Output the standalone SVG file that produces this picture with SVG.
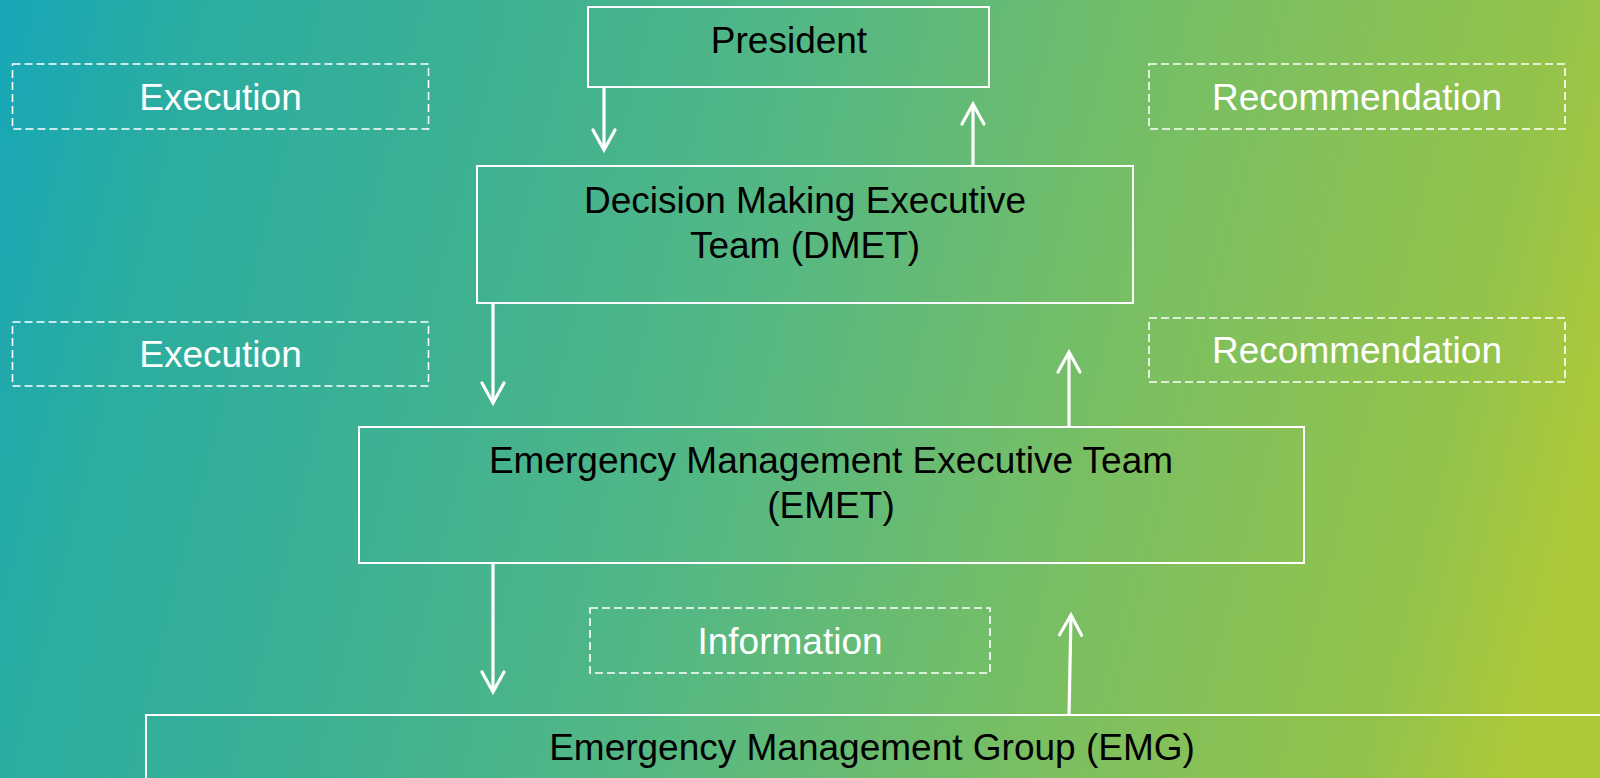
<svg xmlns="http://www.w3.org/2000/svg" width="1600" height="778" viewBox="0 0 1600 778">
<defs>
<linearGradient id="bg" gradientUnits="userSpaceOnUse" x1="0" y1="0" x2="1600" y2="400">
<stop offset="0" stop-color="#17a7b8"/>
<stop offset="0.12" stop-color="#2badA0"/>
<stop offset="0.3" stop-color="#3db193"/>
<stop offset="0.5" stop-color="#56b882"/>
<stop offset="0.72" stop-color="#7abf62"/>
<stop offset="0.92" stop-color="#94c34b"/>
<stop offset="1" stop-color="#acc93a"/>
</linearGradient>
<marker id="ah" markerUnits="userSpaceOnUse" markerWidth="30" markerHeight="30" refX="0" refY="0" orient="auto" overflow="visible">
<path d="M-20,-11 L0,0 L-20,11" fill="none" stroke="#fff" stroke-width="3.2" stroke-linecap="round" stroke-linejoin="miter"/>
</marker>
</defs>
<style>
.node{fill:none;stroke:#fff;stroke-width:2}
.lbl{fill:none;stroke:#fff;stroke-width:1.6;stroke-dasharray:8 4}
.nt{font-family:"Liberation Sans",Arial,sans-serif;font-size:37px;fill:#000;text-anchor:middle}
.lt{font-family:"Liberation Sans",Arial,sans-serif;font-size:37px;fill:#fff;text-anchor:middle}
.conn line{stroke:#fff;stroke-width:3.2;marker-end:url(#ah)}
</style>
<rect x="0" y="0" width="1600" height="778" fill="url(#bg)"/>
<g id="president">
<rect class="node" x="588" y="7" width="401" height="80"/>
<text class="nt" x="789" y="53">President</text>
</g>
<g id="dmet">
<rect class="node" x="477" y="166" width="656" height="137"/>
<text class="nt" x="805" y="213">Decision Making Executive</text>
<text class="nt" x="805" y="258">Team (DMET)</text>
</g>
<g id="emet">
<rect class="node" x="359" y="427" width="945" height="136"/>
<text class="nt" x="831" y="473">Emergency Management Executive Team</text>
<text class="nt" x="831" y="518">(EMET)</text>
</g>
<g id="emg">
<rect class="node" x="146" y="715" width="1500" height="120"/>
<text class="nt" x="872" y="760">Emergency Management Group (EMG)</text>
</g>
<g id="label-execution-1">
<rect class="lbl" x="12.5" y="64" width="416" height="65"/>
<text class="lt" x="220.5" y="110">Execution</text>
</g>
<g id="label-recommendation-1">
<rect class="lbl" x="1149" y="64" width="416" height="65"/>
<text class="lt" x="1357" y="110">Recommendation</text>
</g>
<g id="label-execution-2">
<rect class="lbl" x="12.5" y="322" width="416" height="64"/>
<text class="lt" x="220.5" y="367">Execution</text>
</g>
<g id="label-recommendation-2">
<rect class="lbl" x="1149" y="318" width="416" height="64"/>
<text class="lt" x="1357" y="363">Recommendation</text>
</g>
<g id="label-information">
<rect class="lbl" x="590" y="608" width="400" height="65"/>
<text class="lt" x="790" y="654">Information</text>
</g>
<g id="connectors" class="conn">
<line x1="604" y1="87" x2="604" y2="150"/>
<line x1="973" y1="166" x2="973" y2="104"/>
<line x1="493" y1="303" x2="493" y2="403"/>
<line x1="1069" y1="427" x2="1069" y2="352"/>
<line x1="493" y1="563" x2="493" y2="692"/>
<line x1="1069" y1="715" x2="1071" y2="615"/>
</g>
</svg>
